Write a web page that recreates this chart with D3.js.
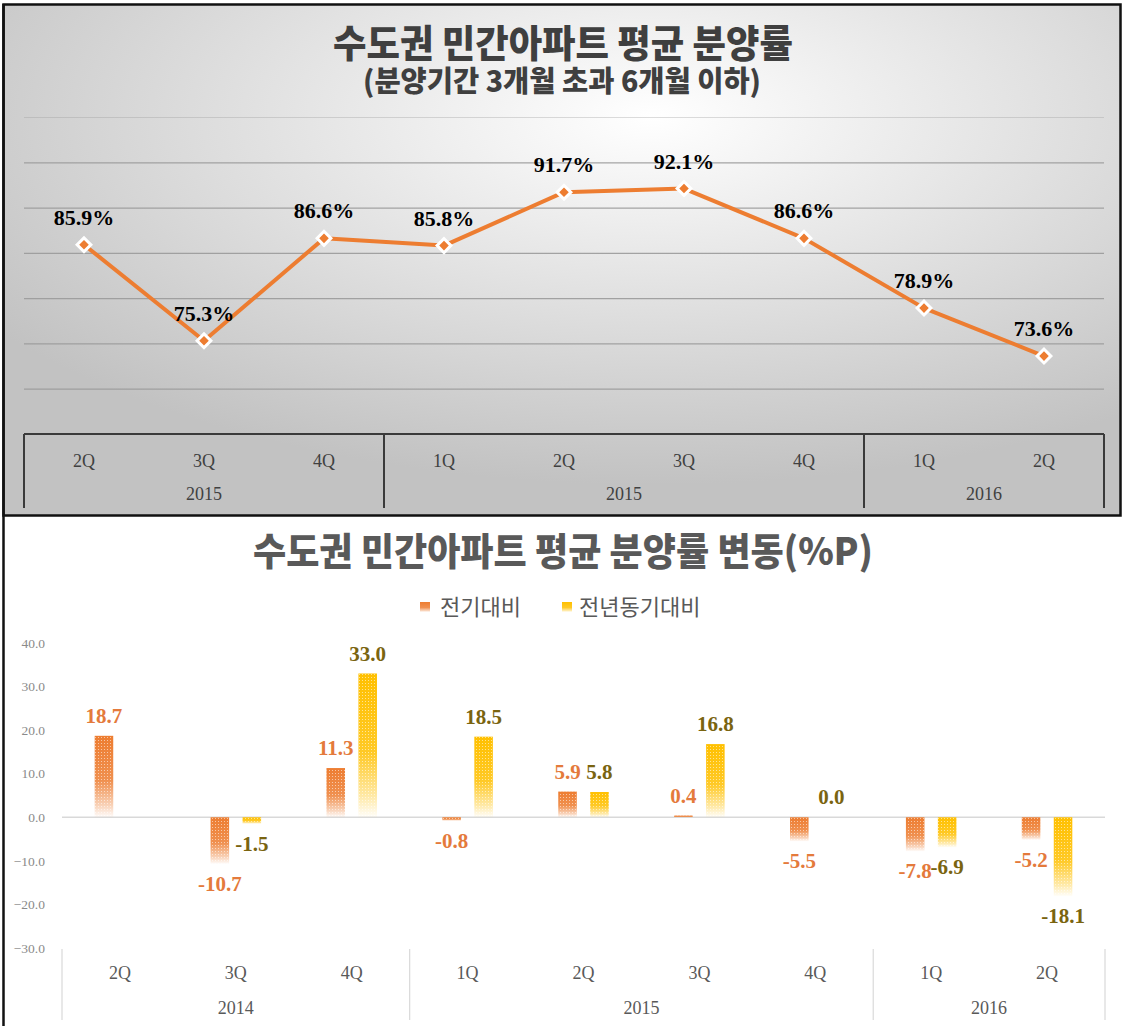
<!DOCTYPE html>
<html>
<head>
<meta charset="utf-8">
<script src="https://cdn.jsdelivr.net/npm/d3@7"></script>
<style>
body { margin: 0; background: #fff; }
text { font-family: "Liberation Serif", serif; }
.kr { font-family: "Noto Sans CJK KR", sans-serif; }
</style>
</head>
<body>
<div id="chart"></div>
<script>
// quarter labels, shared by both charts
var quarters = ["2Q", "3Q", "4Q", "1Q", "2Q", "3Q", "4Q", "1Q", "2Q"];
// year groups (label + number of quarters)
var topYears = [["2015", 3], ["2015", 4], ["2016", 2]];
var bottomYears = [["2014", 3], ["2015", 4], ["2016", 2]];

// top chart: average sales rate (%)
var salesRate = [85.9, 75.3, 86.6, 85.8, 91.7, 92.1, 86.6, 78.9, 73.6];
var topGrid = [70, 75, 80, 85, 90, 95, 100];

// bottom chart: change (%P)
var seriesNames = ["전기대비", "전년동기대비"];
var vsPrevQuarter = [18.7, -10.7, 11.3, -0.8, 5.9, 0.4, -5.5, -7.8, -5.2];
var vsPrevYear = [null, -1.5, 33.0, 18.5, 5.8, 16.8, 0.0, -6.9, -18.1];
var bottomTicks = [40, 30, 20, 10, 0, -10, -20, -30];

var width = 1123, height = 1026;
var orange = "#ED7D31", yellow = "#FFC000";

var svg = d3.select("#chart").append("svg")
    .attr("width", width).attr("height", height);

var defs = svg.append("defs");

// grey radial background of the top panel
var bg = defs.append("radialGradient").attr("id", "bgTop")
    .attr("cx", "58%").attr("cy", "22%").attr("r", "72%");
bg.append("stop").attr("offset", "0%").attr("stop-color", "#ffffff");
bg.append("stop").attr("offset", "100%").attr("stop-color", "#c2c2c2");

// bar fades, dark at the top and white at the bottom
function fade(id, c) {
    var g = defs.append("linearGradient").attr("id", id)
        .attr("x1", 0).attr("y1", 0).attr("x2", 0).attr("y2", 1);
    g.append("stop").attr("offset", "0%").attr("stop-color", c).attr("stop-opacity", 1);
    g.append("stop").attr("offset", "55%").attr("stop-color", c).attr("stop-opacity", 0.85);
    g.append("stop").attr("offset", "85%").attr("stop-color", c).attr("stop-opacity", 0.35);
    g.append("stop").attr("offset", "100%").attr("stop-color", c).attr("stop-opacity", 0.02);
}
fade("fadeOrange", orange);
fade("fadeYellow", yellow);

// small dot texture laid over the bars
var dots = defs.append("pattern").attr("id", "dots")
    .attr("width", 3).attr("height", 3).attr("patternUnits", "userSpaceOnUse");
dots.append("rect").attr("x", 2).attr("y", 2).attr("width", 1).attr("height", 1)
    .attr("fill", "#fff").attr("opacity", 0.55);

// ---------------- top panel ----------------
svg.append("rect")
    .attr("x", 3.5).attr("y", 4.5).attr("width", 1117).attr("height", 511)
    .attr("fill", "url(#bgTop)").attr("stroke", "#111").attr("stroke-width", 2.5);

svg.append("text").attr("class", "kr")
    .attr("x", 563).attr("y", 57).attr("text-anchor", "middle")
    .attr("font-size", 38).attr("font-weight", 900).attr("fill", "#3f3f3f")
    .attr("textLength", 460).attr("lengthAdjust", "spacingAndGlyphs")
    .text("수도권 민간아파트 평균 분양률");
svg.append("text").attr("class", "kr")
    .attr("x", 562).attr("y", 92).attr("text-anchor", "middle")
    .attr("font-size", 29).attr("font-weight", 900).attr("fill", "#3f3f3f")
    .attr("textLength", 398).attr("lengthAdjust", "spacingAndGlyphs")
    .text("(분양기간 3개월 초과 6개월 이하)");

var xTop = d3.scaleBand().domain(d3.range(quarters.length)).range([24, 1104]);
var yTop = d3.scaleLinear().domain([65, 100]).range([434, 117]);

var gTop = svg.append("g");

gTop.append("g").attr("transform", "translate(24,0)")
    .call(d3.axisLeft(yTop).tickValues(topGrid).tickSize(-1080).tickFormat(""))
    .call(function (g) {
        g.select(".domain").remove();
        g.selectAll(".tick line").attr("stroke", "#9a9a9a").attr("stroke-width", 1.2)
            .attr("stroke-opacity", function (d) { return d === 100 ? 0.35 : 0.9; });
    });

// category axis with year groups
function categoryAxis(g, x, years, top, bottom, stroke, sw, qY, yY, color) {
    g.append("line").attr("x1", x.range()[0]).attr("x2", x.range()[1])
        .attr("y1", top).attr("y2", top).attr("stroke", stroke).attr("stroke-width", sw)
        .attr("visibility", stroke === "none" ? "hidden" : null);
    var start = 0, edges = [x.range()[0]], mids = [];
    years.forEach(function (yr) {
        var a = x.range()[0] + start * x.step();
        var b = a + yr[1] * x.step();
        edges.push(b);
        mids.push([(a + b) / 2, yr[0]]);
        start += yr[1];
    });
    g.selectAll(".div").data(edges).enter().append("line")
        .attr("x1", function (d) { return d; }).attr("x2", function (d) { return d; })
        .attr("y1", top).attr("y2", bottom)
        .attr("stroke", stroke === "none" ? "#d9d9d9" : stroke).attr("stroke-width", sw);
    g.selectAll(".q").data(quarters).enter().append("text")
        .attr("x", function (d, i) { return x(i) + x.bandwidth() / 2; })
        .attr("y", qY).attr("text-anchor", "middle")
        .attr("font-size", 18).attr("fill", color).text(function (d) { return d; });
    g.selectAll(".yr").data(mids).enter().append("text")
        .attr("x", function (d) { return d[0]; })
        .attr("y", yY).attr("text-anchor", "middle")
        .attr("font-size", 18).attr("fill", color).text(function (d) { return d[1]; });
}
categoryAxis(gTop, xTop, topYears, 434, 508, "#3a3a3a", 2, 467, 500, "#404040");

var line = d3.line()
    .x(function (d, i) { return xTop(i) + xTop.bandwidth() / 2; })
    .y(function (d) { return yTop(d); });

gTop.append("path").datum(salesRate)
    .attr("d", line).attr("fill", "none")
    .attr("stroke", orange).attr("stroke-width", 4).attr("stroke-linejoin", "round");

gTop.selectAll(".marker").data(salesRate).enter().append("path")
    .attr("d", d3.symbol().type(d3.symbolSquare).size(95)())
    .attr("transform", function (d, i) {
        return "translate(" + (xTop(i) + xTop.bandwidth() / 2) + "," + yTop(d) + ") rotate(45)";
    })
    .attr("fill", orange).attr("stroke", "#fff").attr("stroke-width", 3);

gTop.selectAll(".lbl").data(salesRate).enter().append("text")
    .attr("x", function (d, i) { return xTop(i) + xTop.bandwidth() / 2; })
    .attr("y", function (d) { return yTop(d) - 20; })
    .attr("text-anchor", "middle").attr("font-size", 22).attr("font-weight", "bold")
    .attr("fill", "#000").text(function (d) { return d.toFixed(1) + "%"; });

// ---------------- bottom panel ----------------
svg.append("line").attr("x1", 3.5).attr("x2", 3.5).attr("y1", 4).attr("y2", height)
    .attr("stroke", "#111").attr("stroke-width", 2.5);

svg.append("text").attr("class", "kr")
    .attr("x", 563).attr("y", 565).attr("text-anchor", "middle")
    .attr("font-size", 38).attr("font-weight", 900).attr("fill", "#595959")
    .attr("textLength", 620).attr("lengthAdjust", "spacingAndGlyphs")
    .text("수도권 민간아파트 평균 분양률 변동(%P)");

// legend
var legend = svg.append("g");
var legendPos = [[420, 440], [562, 579]];
seriesNames.forEach(function (name, i) {
    legend.append("rect").attr("x", legendPos[i][0]).attr("y", 602)
        .attr("width", 10).attr("height", 10)
        .attr("fill", i === 0 ? "url(#fadeOrange)" : "url(#fadeYellow)");
    legend.append("text").attr("class", "kr")
        .attr("x", legendPos[i][1]).attr("y", 615)
        .attr("font-size", 22).attr("fill", "#595959").text(name);
});

var x0 = d3.scaleBand().domain(d3.range(quarters.length)).range([62, 1105]);
var x1 = d3.scaleBand().domain([0, 1]).range([0, 50.5]).paddingInner(0.42);
var yB = d3.scaleLinear().domain([-30, 40]).range([948, 643]);

var gB = svg.append("g");

gB.selectAll(".ytick").data(bottomTicks).enter().append("text")
    .attr("x", 45).attr("y", function (d) { return yB(d); }).attr("dy", "0.35em")
    .attr("text-anchor", "end").attr("font-size", 13.5).attr("fill", "#8a8a8a")
    .text(function (d) { return d3.format(".1f")(d); });

gB.append("line").attr("x1", 62).attr("x2", 1105)
    .attr("y1", yB(0)).attr("y2", yB(0)).attr("stroke", "#d9d9d9").attr("stroke-width", 1.5);

categoryAxis(gB, x0, bottomYears, 949, 1020, "none", 1.2, 979, 1014, "#595959");

var barData = [];
[vsPrevQuarter, vsPrevYear].forEach(function (series, s) {
    series.forEach(function (v, i) {
        if (v !== null) barData.push({ s: s, i: i, v: v });
    });
});

function barX(d) {
    return x0(d.i) + (x0.bandwidth() - x1.range()[1]) / 2 + x1(d.s);
}

var bars = gB.selectAll(".bar").data(barData).enter().append("g");
bars.append("rect")
    .attr("x", barX)
    .attr("y", function (d) { return yB(Math.max(0, d.v)); })
    .attr("width", x1.bandwidth())
    .attr("height", function (d) { return Math.abs(yB(d.v) - yB(0)); })
    .attr("fill", function (d) { return d.s === 0 ? "url(#fadeOrange)" : "url(#fadeYellow)"; });
bars.append("rect")
    .attr("x", barX)
    .attr("y", function (d) { return yB(Math.max(0, d.v)); })
    .attr("width", x1.bandwidth())
    .attr("height", function (d) { return Math.abs(yB(d.v) - yB(0)); })
    .attr("fill", "url(#dots)");

gB.selectAll(".blbl").data(barData).enter().append("text")
    .attr("x", function (d) { return barX(d) + x1.bandwidth() / 2; })
    .attr("y", function (d) { return d.v >= 0 ? yB(d.v) - 13 : yB(d.v) + 27; })
    .attr("text-anchor", "middle").attr("font-size", 21).attr("font-weight", "bold")
    .attr("fill", function (d) { return d.s === 0 ? "#E47A3C" : "#7A6410"; })
    .text(function (d) { return d.v.toFixed(1); });
</script>
</body>
</html>
